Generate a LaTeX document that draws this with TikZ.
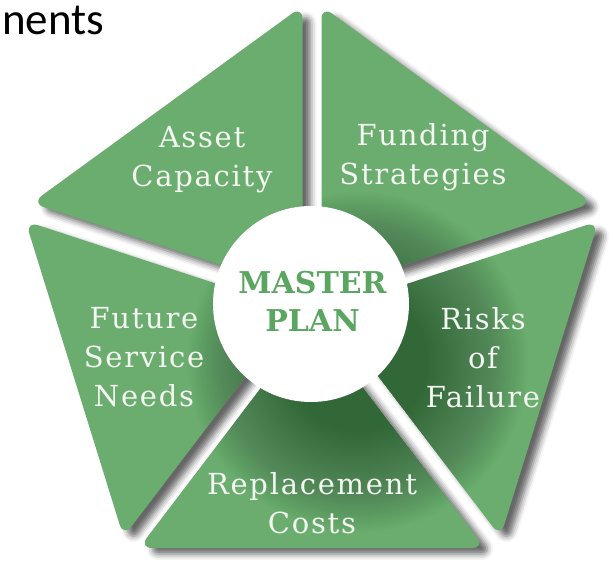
\documentclass[tikz,border=0pt]{standalone}
\usepackage{fontspec}
\setmainfont{DejaVu Serif}
\newfontfamily\labelfont[LetterSpace=6]{DejaVu Serif}
\newfontfamily\hubfont{DejaVu Serif}
\newfontfamily\headfont{Carlito}
\usetikzlibrary{shadows.blur}

\definecolor{leaf}{HTML}{6BAC6F}
\definecolor{leafdark}{HTML}{2C5532}
\definecolor{hubtext}{HTML}{5AA55F}
\definecolor{labeltext}{HTML}{F3F7F1}

\begin{document}
\begin{tikzpicture}[x=1pt,y=-1pt,
  piece/.style={rounded corners=13pt},
  pieceshadow/.style={blur shadow={shadow xshift=8pt, shadow yshift=-6pt,
      shadow blur radius=6pt, shadow opacity=60}},
  lbl/.style={align=center, text=labeltext,
      font=\labelfont\fontsize{29}{39}\selectfont},
  hub/.style={circle, fill=white, minimum size=196pt, inner sep=0pt}]
\useasboundingbox (0,0) rectangle (614,573);

% heading fragment in the corner
\node[font=\headfont\fontsize{45}{50}\selectfont, anchor=base west,
  inner sep=0pt] (head) at (2,34) {nents};

% corner points of the five segments (inner point, two outer corners)
\coordinate (A-in) at (302.5,291.9);
\coordinate (A-l)  at (31.5,203.1);
\coordinate (A-t)  at (302.5,5.9);
\coordinate (F-in) at (321.5,291.9);
\coordinate (F-t)  at (321.5,5.9);
\coordinate (F-r)  at (592.5,203.1);
\coordinate (R-in) at (327.7,309.9);
\coordinate (R-t)  at (598.5,221.1);
\coordinate (R-b)  at (500.5,536.9);
\coordinate (C-in) at (312,320.7);
\coordinate (C-r)  at (485,548);
\coordinate (C-l)  at (139,548);
\coordinate (N-in) at (296.3,309.9);
\coordinate (N-b)  at (123.5,536.9);
\coordinate (N-t)  at (25.5,221.1);

% soft shadows first, so no segment is darkened by its neighbour
\foreach \p/\q/\r in {A-in/A-l/A-t, F-in/F-t/F-r, R-in/R-t/R-b,
                      C-in/C-r/C-l, N-in/N-b/N-t}
  \path[piece, pieceshadow] (\p) -- (\q) -- (\r) -- cycle;

% the green segments
\foreach \p/\q/\r in {A-in/A-l/A-t, F-in/F-t/F-r, R-in/R-t/R-b,
                      C-in/C-r/C-l, N-in/N-b/N-t}
  \fill[piece, leaf] (\p) -- (\q) -- (\r) -- cycle;

% shadow cast by the central disc onto the segments
\begin{scope}
  \clip[piece] (A-in) -- (A-l) -- (A-t) -- cycle
               (F-in) -- (F-t) -- (F-r) -- cycle
               (R-in) -- (R-t) -- (R-b) -- cycle
               (C-in) -- (C-r) -- (C-l) -- cycle
               (N-in) -- (N-b) -- (N-t) -- cycle;
  \foreach \rad in {70,72,...,170}
    \fill[leafdark, opacity=0.02] (358,362) circle[radius=\rad pt];
\end{scope}

% segment labels
\node[lbl] (asset)   at (202,160)   {Asset\\Capacity};
\node[lbl] (funding) at (423,157.5) {Funding\\Strategies};
\node[lbl] (risks)   at (483,357.5) {Risks\\of\\Failure};
\node[lbl] (costs)   at (312,503)   {Replacement\\Costs};
\node[lbl] (future)  at (144,357.5) {Future\\Service\\Needs};

% central disc
\node[hub] (plan) at (311,304) {};
\node[align=center, text=hubtext, inner sep=0pt,
  font=\hubfont\bfseries\fontsize{30}{38}\selectfont] (plantext)
  at (312.5,301) {MASTER\\PLAN};
\end{tikzpicture}
\end{document}
